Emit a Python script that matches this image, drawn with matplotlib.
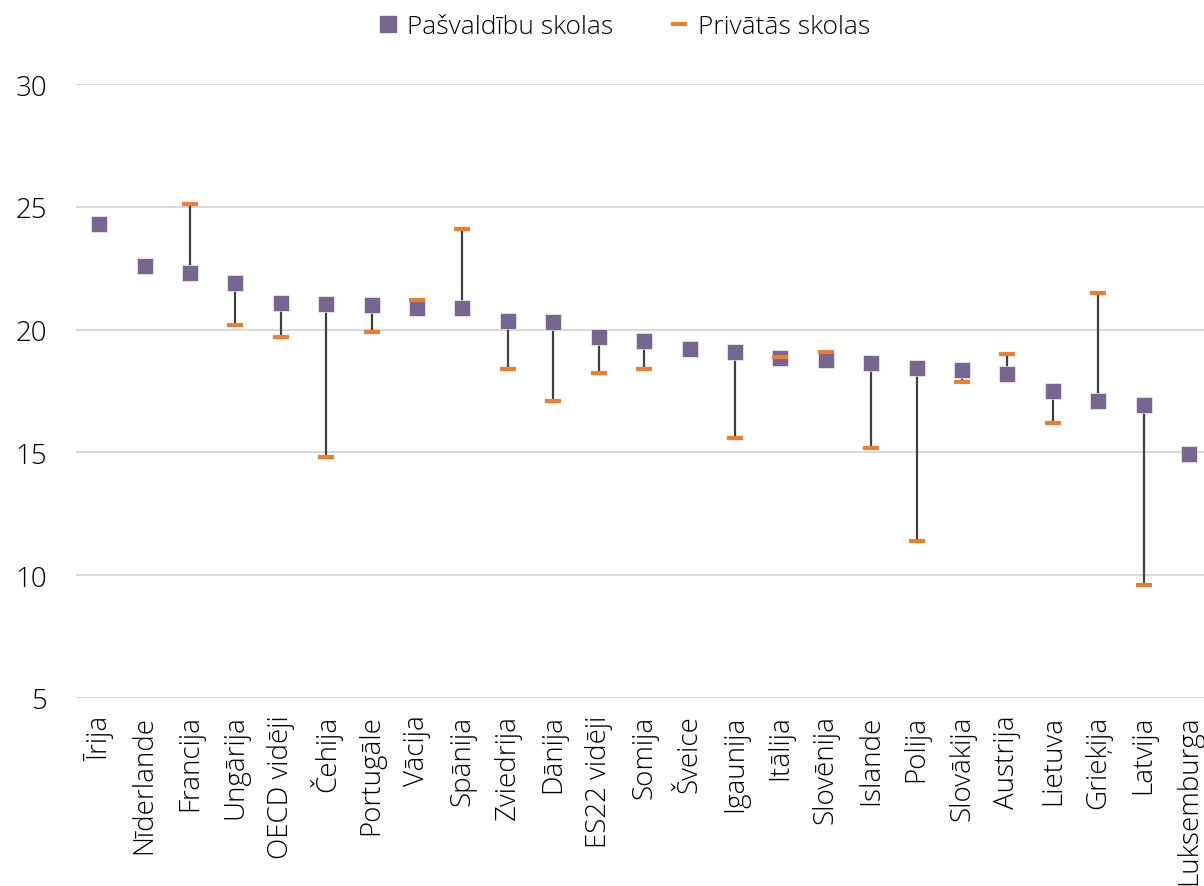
import numpy as np
import matplotlib
matplotlib.use('Agg')
from matplotlib import pyplot as plt
from matplotlib.lines import Line2D

plt.rcParams['font.family'] = ['Open Sans', 'DejaVu Sans']
plt.rcParams['font.weight'] = 'light'

valstis = ['Īrija', 'Nīderlande', 'Francija', 'Ungārija', 'OECD vidēji', 'Čehija',
           'Portugāle', 'Vācija', 'Spānija', 'Zviedrija', 'Dānija', 'ES22 vidēji',
           'Somija', 'Šveice', 'Igaunija', 'Itālija', 'Slovēnija', 'Islande',
           'Polija', 'Slovākija', 'Austrija', 'Lietuva', 'Grieķija', 'Latvija',
           'Luksemburga']
pasvaldibu = [24.3, 22.6, 22.3, 21.9, 21.1, 21.05, 21.0, 20.9, 20.9, 20.35, 20.3, 19.7,
              19.55, 19.2, 19.1, 18.85, 18.75, 18.65, 18.45, 18.35, 18.2, 17.5, 17.1, 16.95,
              14.95]
privatas = [np.nan, np.nan, 25.1, 20.2, 19.7, 14.8, 19.9, 21.2, 24.1, 18.4, 17.1, 18.25,
            18.4, np.nan, 15.6, 18.9, 19.1, 15.2, 11.4, 17.85, 19.0, 16.2, 21.5, 9.6,
            np.nan]

violets = '#77668f'
oranzs = '#ed7d31'

fig = plt.figure(figsize=(12.04, 8.87), dpi=100)
ax = fig.add_axes([0.0635, 0.212, 0.943, 0.692])

x = np.arange(len(valstis))
for i in x:
    if not np.isnan(privatas[i]):
        ax.plot([i, i], [pasvaldibu[i], privatas[i]], color='#404040', lw=1.6, zorder=2)

ax.plot(x, pasvaldibu, 's', color=violets, ms=11.5, mec='#ffffff', mew=0.4, zorder=3)
ax.plot(x, privatas, '_', color=oranzs, ms=11, mew=3, zorder=4)

ax.set_xlim(-0.5, len(valstis) - 0.5)
ax.set_ylim(5, 30)
ax.set_yticks([5, 10, 15, 20, 25, 30])
ax.yaxis.grid(True, color='#d9d9d9', lw=1.5)
ax.set_axisbelow(True)
for s in ax.spines.values():
    s.set_visible(False)
ax.tick_params(axis='both', length=0, labelsize=20, colors='#000000')
ax.tick_params(axis='y', pad=21)
ax.tick_params(axis='x', pad=12)
ax.set_xticks(x)
ax.set_xticklabels(valstis, rotation=90, va='top')

apz = [Line2D([], [], marker='s', ls='none', color=violets, ms=11.5),
       Line2D([], [], marker='_', ls='none', color=oranzs, ms=11, mew=3)]
fig.legend(apz, ['Pašvaldību skolas', 'Privātās skolas'], loc='upper center',
           bbox_to_anchor=(0.517, 1.01), ncol=2, frameon=False, fontsize=19,
           handlelength=1.0, handletextpad=0.2, columnspacing=2.0)

plt.savefig('out.png', dpi=100)
